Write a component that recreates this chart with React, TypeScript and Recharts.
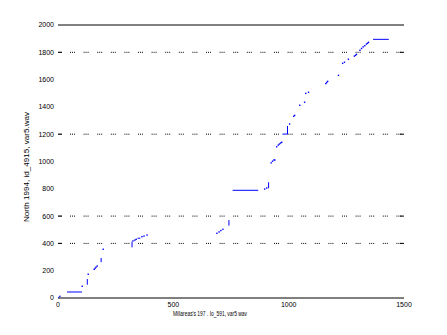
import React from 'react';
import { ComposedChart, Line, XAxis, YAxis, ReferenceLine } from 'recharts';

// Solid parts of the alignment path: [x1, y1, x2, y2]
const pathSegments: [number, number, number, number][] = [
  [39, 44, 104, 44],
  [127, 97, 127, 139],
  [187, 262, 187, 293],
  [321, 371, 321, 413],
  [345, 438, 357, 438],
  [741, 530, 741, 571],
  [757, 789, 868, 789],
  [913, 804, 913, 848],
  [973, 1201, 995, 1201],
  [995, 1201, 995, 1260],
  [1366, 1895, 1434, 1895],
];

// Isolated points of the path: [x, y]
const pathDots: [number, number][] = [
  [0, 3], [8, 12], [105, 86], [131, 174], [157, 210], [161, 218], [165, 226], [170, 234], [196, 357],
  [325, 418], [333, 424], [339, 430], [364, 449], [373, 454], [386, 461],
  [689, 474], [698, 484], [706, 494], [715, 503],
  [896, 798], [905, 806],
  [924, 990], [930, 1002], [936, 1011], [940, 1011],
  [948, 1108], [955, 1120], [960, 1128], [965, 1135], [970, 1141],
  [1004, 1275], [1022, 1331], [1026, 1338], [1048, 1412], [1069, 1434], [1074, 1499], [1086, 1507],
  [1161, 1571], [1165, 1579], [1169, 1587], [1216, 1631], [1234, 1719], [1242, 1727], [1259, 1749],
  [1285, 1772], [1290, 1778], [1294, 1785],
  [1309, 1815], [1316, 1828], [1323, 1840], [1330, 1848], [1337, 1860], [1342, 1866], [1346, 1873],
];

const xTicks = [0, 500, 1000, 1500];
const yTicks = [0, 200, 400, 600, 800, 1000, 1200, 1400, 1600, 1800, 2000];
const gridValues = [400, 600, 1200, 1800];
const xTitle = "Millareas's 197 . Io_591, var5 wav";
const yTitle = 'North 1994, id_4915, var5.wav';

const FONT = '"Liberation Sans", Arial, Helvetica, sans-serif';
const BLUE = '#0000ff';

const segData: { x: number; y: number | null }[] = [];
pathSegments.forEach(([x1, y1, x2, y2]) => {
  segData.push({ x: x1, y: y1 });
  segData.push({ x: x2, y: y2 });
  segData.push({ x: x2, y: null });
});
const dotData = pathDots.map(([x, y]) => ({ x, y }));

const LeftTick = (props: any) => {
  const { x, y, payload } = props;
  return (
    <g>
      <text x={x} y={y} dy="0.35em" textAnchor="end" fontSize={7} fontFamily={FONT} fill="#000">
        {payload.value}
      </text>
      {gridValues.includes(payload.value) && (
        <line x1={x + 4} x2={x + 8} y1={y} y2={y} stroke="#000" strokeWidth={1} />
      )}
    </g>
  );
};

const RightTick = (props: any) => {
  const { x, y } = props;
  return <line x1={x - 4} x2={x} y1={y} y2={y} stroke="#000" strokeWidth={1} />;
};

const XLabel = (props: any) => {
  const vb = props.viewBox || { x: 58, y: 298 };
  return (
    <text x={vb.x + 115} y={vb.y + 17.5} fontSize={7} fontFamily={FONT} fill="#000" textLength={74} lengthAdjust="spacingAndGlyphs">
      {xTitle}
    </text>
  );
};

const YLabel = (props: any) => {
  const vb = props.viewBox || { x: 0, y: 25, height: 273 };
  const cx = 29;
  const cy = vb.y + vb.height / 2 + 5.5;
  return (
    <text x={cx} y={cy} transform={`rotate(-90, ${cx}, ${cy})`} textAnchor="middle" fontSize={7} fontFamily={FONT} fill="#000" textLength={110} lengthAdjust="spacingAndGlyphs">
      {yTitle}
    </text>
  );
};

const renderDot = (props: any) => {
  const { cx, cy, index } = props;
  if (cx == null || cy == null) return <g key={`d${index}`} />;
  return <rect key={`d${index}`} x={cx - 0.7} y={cy - 0.7} width={1.4} height={1.4} fill={BLUE} />;
};

export default function App() {
  return (
    <div style={{ position: 'absolute', left: 0, top: 0, background: '#fff' }}>
      <ComposedChart width={447} height={335} margin={{ top: 25, right: 42, bottom: 17, left: 0 }}>
        <XAxis
          type="number"
          dataKey="x"
          domain={[0, 1500]}
          ticks={xTicks}
          interval={0}
          allowDataOverflow
          tickSize={0}
          tickMargin={4}
          height={20}
          axisLine={{ stroke: '#000', strokeWidth: 1 }}
          tickLine={false}
          tick={{ fontSize: 7, fill: '#000', fontFamily: FONT }}
          label={{ content: XLabel }}
        />
        <YAxis
          type="number"
          dataKey="y"
          domain={[0, 2000]}
          ticks={yTicks}
          interval={0}
          allowDataOverflow
          width={58}
          tickSize={0}
          tickMargin={4}
          axisLine={false}
          tickLine={false}
          tick={(p: any) => <LeftTick {...p} />}
          label={{ content: YLabel }}
        />
        <YAxis
          yAxisId="r"
          orientation="right"
          type="number"
          domain={[0, 2000]}
          ticks={gridValues}
          interval={0}
          allowDataOverflow
          width={1}
          tickSize={0}
          tickMargin={0}
          axisLine={false}
          tickLine={false}
          tick={(p: any) => <RightTick {...p} />}
        />
        {gridValues.map((v) => (
          <ReferenceLine
            key={v}
            y={v}
            stroke="#000"
            strokeWidth={1}
            strokeDasharray="1 1 1 1 1 8.6"
            strokeDashoffset={-12}
          />
        ))}
        <ReferenceLine y={2000} stroke="#000" strokeWidth={1} />
        <Line
          data={segData}
          dataKey="y"
          stroke={BLUE}
          strokeWidth={1}
          dot={false}
          connectNulls={false}
          isAnimationActive={false}
          type="linear"
        />
        <Line
          data={dotData}
          dataKey="y"
          stroke="none"
          dot={renderDot}
          activeDot={false}
          isAnimationActive={false}
          type="linear"
        />
      </ComposedChart>
    </div>
  );
}
